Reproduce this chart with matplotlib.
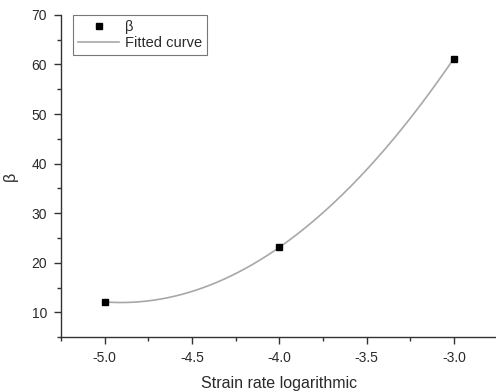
import numpy as np
import matplotlib
matplotlib.use("Agg")
import matplotlib.pyplot as plt
from matplotlib.ticker import MultipleLocator

plt.rcParams['font.family'] = ['Liberation Sans', 'DejaVu Sans']
plt.rcParams['axes.unicode_minus'] = False

strain_log = [-5.0, -4.0, -3.0]
beta = [12.1, 23.1, 61.2]

coef = np.polyfit(strain_log, beta, 2)
xf = np.linspace(-5.0, -3.0, 200)
yf = np.polyval(coef, xf)

fig = plt.figure(figsize=(4.96, 3.92), dpi=100)
ax = fig.add_axes([0.123, 0.140, 0.880, 0.822])
ax.plot(xf, yf, color='#a8a8a8', lw=1.2, label='Fitted curve', zorder=2)
ax.plot(strain_log, beta, 's', color='black', ms=5, label='β', zorder=3)

ax.set_xlim(-5.25, -2.75)
ax.set_ylim(5, 70)
ax.xaxis.set_major_locator(MultipleLocator(0.5))
ax.xaxis.set_minor_locator(MultipleLocator(0.25))
ax.yaxis.set_major_locator(MultipleLocator(10))
ax.yaxis.set_minor_locator(MultipleLocator(5))
ax.spines['top'].set_visible(False)
ax.spines['right'].set_visible(False)
for s in ('left', 'bottom'):
    ax.spines[s].set_color('#333333')
    ax.spines[s].set_linewidth(1.0)
ax.tick_params(which='major', direction='out', length=5, width=1, colors='#333333',
               labelsize=10, labelcolor='#2a2a2a', pad=5)
ax.tick_params(which='minor', direction='out', length=3, width=1, colors='#333333')
ax.set_xlabel('Strain rate logarithmic', fontsize=11.5, color='#2a2a2a', labelpad=8)
ax.set_ylabel('β', fontsize=11.5, color='#2a2a2a', labelpad=10)

handles, labels = ax.get_legend_handles_labels()
leg = ax.legend(handles[::-1], labels[::-1], loc='upper left', bbox_to_anchor=(0.028, 1.0),
                borderaxespad=0, frameon=True, fancybox=False, fontsize=10.5, handlelength=2.8,
                borderpad=0.35, labelspacing=0.15, handletextpad=0.4)
leg.get_frame().set_edgecolor('#555555')
leg.get_frame().set_linewidth(0.8)
for t in leg.get_texts():
    t.set_color('#2a2a2a')

fig.savefig('out.png', dpi=100)
